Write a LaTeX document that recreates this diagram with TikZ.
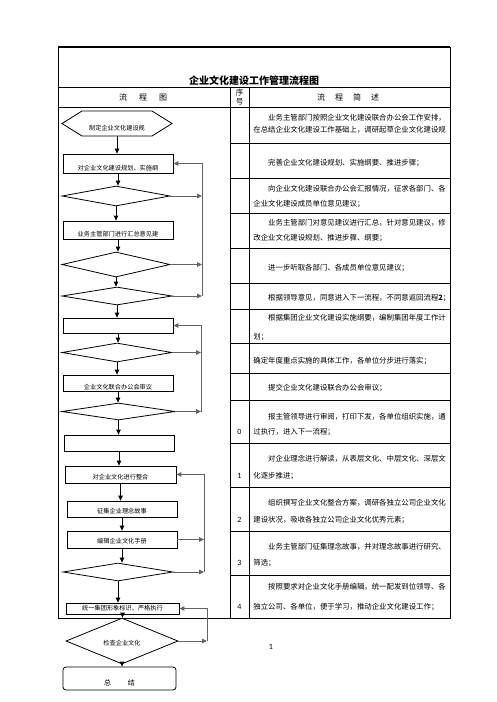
\documentclass[tikz,border=0pt]{standalone}
\usepackage{fontspec}
\setmainfont{Noto Sans CJK SC}
\newfontfamily\numfont{Carlito}
\usetikzlibrary{arrows.meta, shapes.geometric, shapes.symbols}

\tikzset{
  boxtxt/.style={font=\fontsize{6.2}{7}\selectfont},
  txtdown/.style={text height=#1, text depth=0pt},
  stepbox/.style={rectangle, minimum width=110pt},
  choice/.style={diamond},
  fbcolor/.style={draw={rgb,255:red,100;green,100;blue,100}}
}

\begin{document}
\begin{tikzpicture}[x=1pt, y=-1pt, line width=0.8pt]
\useasboundingbox (0,0) rectangle (496,702);

% table
\draw[line width=1.6pt] (58,47) -- (450,47);
\draw (58,47) rectangle (450,618);
\draw (58,87) -- (450,87);
\draw (58,107) -- (450,107);
\draw (230,87) -- (230,618);
\draw (249,87) -- (249,618);
\foreach \y in {143,178,213,248,283,309,343,373,400,443,487,531,575}
    \draw (230,\y) -- (450,\y);

\node (title) at (254,81) [font=\fontsize{10}{12}\selectfont\bfseries] {企业文化建设工作管理流程图};
\node (hflow) at (143,97) [font=\fontsize{8}{9}\selectfont] {流\hspace{12pt}程\hspace{12pt}图};
\node (hseq) at (239.5,97.5) [align=center, inner sep=0pt, font=\fontsize{7.5}{9}\selectfont] {序\\号};
\node (hdesc) at (348,97) [font=\fontsize{8}{9}\selectfont] {流\hspace{10pt}程\hspace{10pt}简\hspace{10pt}述};

% flow chart
\begin{scope}[every node/.style={draw, inner sep=0pt, boxtxt}]
    \node (plan) at (117,123.5) [signal, signal to=west and east, signal pointer angle=64,
        minimum width=110pt, minimum height=25pt, txtdown=13.7pt] {制定企业文化建设规};
    \node (outline) at (118,163.5) [stepbox, minimum height=19pt, txtdown=13.7pt] {对企业文化建设规划、实施纲};
    \node (ask) at (116,196) [choice, minimum width=108pt, minimum height=20pt] {};
    \node (collect) at (118,230) [stepbox, minimum height=18pt, txtdown=12.7pt] {业务主管部门进行汇总意见建};
    \node (hear) at (116,264.5) [choice, minimum width=108pt, minimum height=25pt] {};
    \node (lead) at (117,296) [choice, minimum width=110pt, minimum height=18pt] {};
    \node (yearplan) at (118,325.5) [stepbox, minimum height=15pt] {};
    \node (focus) at (117,352.5) [choice, minimum width=110pt, minimum height=19pt] {};
    \node (review) at (118,383) [stepbox, minimum height=16pt, txtdown=12.7pt] {企业文化联合办公会审议};
    \node (approve) at (118.5,411.5) [choice, minimum width=113pt, minimum height=17pt] {};
    \node (issue) at (119,443) [stepbox, minimum height=16pt] {};
    \node (merge) at (120.5,474.5) [stepbox, minimum width=111pt, minimum height=17pt, txtdown=9.7pt] {对企业文化进行整合};
    \node (story) at (122,509) [stepbox, minimum height=16pt, txtdown=8.7pt] {征集企业理念故事};
    \node (manual) at (122,539.5) [stepbox, minimum height=17pt, txtdown=7.7pt] {编辑企业文化手册};
    \node (check) at (118,572) [choice, minimum width=110pt, minimum height=18pt] {};
    \node (unify) at (122.5,608.5) [stepbox, minimum width=113pt, minimum height=11pt] {统一集团形象标识、严格执行};
    \node (inspect) at (122,641) [choice, minimum width=112pt, minimum height=28pt, txtdown=8.7pt] {检查企业文化};
    \node (summary) at (119.5,678.5) [stepbox, rounded corners=3pt, minimum width=113pt, minimum height=23pt,
        txtdown=13.7pt, font=\fontsize{7}{8}\selectfont] {总\hspace{17pt}结};
\end{scope}

\coordinate (loopA) at (202,0);
\coordinate (loopB) at (201,0);
\coordinate (loopC) at (204,0);
\coordinate (loopD) at (207,0);

\begin{scope}[>={Triangle[length=5pt,width=4.5pt]},
              every edge/.style={draw, ->}]
    \path (plan.south) edge (plan.south |- outline.north);
    \path (outline.south) edge (outline.south |- ask.north);
    \path (ask.south) edge (ask.south |- collect.north);
    \path (collect.south) edge (collect.south |- hear.north);
    \path (hear.south) edge (hear.south |- lead.north);
    \path (lead.south) edge (lead.south |- yearplan.north);
    \path (yearplan.south) edge (yearplan.south |- focus.north);
    \path (focus.south) edge (focus.south |- review.north);
    \path (review.south) edge (review.south |- approve.north);
    \path (approve.south) edge (approve.south |- issue.north);
    \path (issue.south) edge (issue.south |- merge.north);
    \path (merge.south) edge (merge.south |- story.north);
    \path (story.south) edge (story.south |- manual.north);
    \path (manual.south) edge (manual.south |- check.north);
    \path (check.south) edge (check.south |- unify.north);
    \path (unify.south) edge (unify.south |- inspect.north);
    \path (inspect.south) edge (inspect.south |- summary.north);
\end{scope}

% feedback loops
\begin{scope}[>={Triangle[length=5pt,width=4.5pt]}, line width=1pt,
              every edge/.style={fbcolor, ->}]
    \draw[fbcolor, ->] (lead.east -| loopA) |- (outline.east);
    \path (ask.east) edge (ask.east -| loopA);
    \path (hear.east) edge (hear.east -| loopA);
    \path (lead.east) edge (lead.east -| loopA);

    \draw[fbcolor, ->] (approve.east -| loopB) |- (yearplan.east);
    \path (focus.east) edge (focus.east -| loopB);
    \path (approve.east) edge (approve.east -| loopB);

    \draw[fbcolor, ->] (check.east -| loopC) |- (merge.east);
    \path (manual.east) edge (manual.east -| loopC);
    \path (check.east) edge (check.east -| loopC);

    \draw[fbcolor, ->] (inspect.east -| loopD) |- (unify.east);
    \path (inspect.east) edge (inspect.east -| loopD);
\end{scope}

% description column
\begin{scope}[every node/.style={anchor=west, inner sep=0pt, font=\fontsize{7.4}{9}\selectfont}]
    \node (t1a) at (253,118) {　　业务主管部门按照企业文化建设联合办公会工作安排，};
    \node (t1b) at (253,130) {在总结企业文化建设工作基础上，调研起草企业文化建设规};
    \node (t2a) at (253,163) {　　完善企业文化建设规划、实施纲要、推进步骤；};
    \node (t3a) at (253,189) {　　向企业文化建设联合办公会汇报情况，征求各部门、各};
    \node (t3b) at (253,204) {企业文化建设成员单位意见建议；};
    \node (t4a) at (253,223) {　　业务主管部门对意见建议进行汇总，针对意见建议，修};
    \node (t4b) at (253,238) {改企业文化建设规划、推进步骤、纲要；};
    \node (t5a) at (253,268) {　　进一步听取各部门、各成员单位意见建议；};
    \node (t6a) at (253,298) {　　根据领导意见，同意进入下一流程，不同意返回流程\textbf{2}；};
    \node (t7a) at (253,318) {　　根据集团企业文化建设实施纲要，编制集团年度工作计};
    \node (t7b) at (253,337) {划；};
    \node (t8a) at (253,361) {确定年度重点实施的具体工作，各单位分步进行落实；};
    \node (t9a) at (253,388) {　　提交企业文化建设联合办公会审议；};
    \node (t10a) at (253,417) {　　报主管领导进行审阅，打印下发，各单位组织实施，通};
    \node (t10b) at (253,432) {过执行，进入下一流程；};
    \node (t11a) at (253,459) {　　对企业理念进行解读，从表层文化、中层文化、深层文};
    \node (t11b) at (253,476) {化逐步推进；};
    \node (t12a) at (253,503) {　　组织撰写企业文化整合方案，调研各独立公司企业文化};
    \node (t12b) at (253,520) {建设状况，吸收各独立公司企业文化优秀元素；};
    \node (t13a) at (253,547) {　　业务主管部门征集理念故事，并对理念故事进行研究、};
    \node (t13b) at (253,563) {筛选；};
    \node (t14a) at (253,587) {　　按照要求对企业文化手册编辑，统一配发到位领导、各};
    \node (t14b) at (253,607) {独立公司、各单位，便于学习，推动企业文化建设工作；};
\end{scope}

% sequence numbers
\begin{scope}[every node/.style={inner sep=0pt, font=\numfont\fontsize{8}{9}\selectfont}]
    \node (n0) at (239.5,432) {0};
    \node (n1) at (239.5,476) {1};
    \node (n2) at (239.5,520) {2};
    \node (n3) at (239.5,563) {3};
    \node (n4) at (239.5,607) {4};
    \node (page) at (271,647) {1};
\end{scope}
\end{tikzpicture}
\end{document}
